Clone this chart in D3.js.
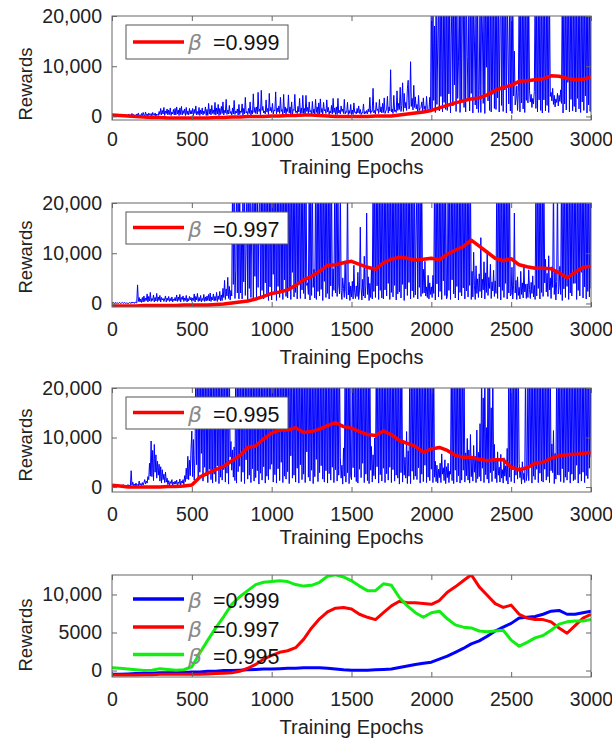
<!DOCTYPE html>
<html>
<head>
<meta charset="utf-8">
<script src="https://cdn.jsdelivr.net/npm/d3@7"></script>
<style>
  body { margin: 0; background: #fff; }
  svg text { font-family: "Liberation Sans", Arial, sans-serif; fill: #222; }
  .tick text { font-size: 19.5px; }
</style>
</head>
<body>
<svg id="chart" width="612" height="738"></svg>
<script>
// rewards are kept in thousands
const xTicks = [0, 500, 1000, 1500, 2000, 2500, 3000];
const yTicksTop = [0, 10, 20];
const yLabelsTop = ["0", "10,000", "20,000"];
const yTicksCmp = [0, 5, 10];
const yLabelsCmp = ["0", "5000", "10,000"];
const betas = ["0.999", "0.997", "0.995"];

// raw rewards, one value every 5 epochs (0..3000), one row per 100 epochs
const noiseEpochs = d3.range(0, 3001, 5);
const noise999 = [
  0.2,0.1,0.3,0.1,0.2,0.4,0.1,0.2,0.3,0.1,0.2,0.1,0.3,0.2,0.1,0.4,0.2,0.1,0.3,0.2,
  0.2,0.5,0.1,0.3,0.2,0.6,0.1,0.4,0.2,0.3,0.1,0.5,0.2,0.7,0.1,0.3,0.2,0.6,0.1,0.8,
  0.3,0.1,0.9,0.2,0.5,0.1,0.7,0.3,0.2,0.6,0.1,0.8,0.3,0.2,0.7,0.1,0.5,0.3,0.2,1.0,
  0.4,1.6,0.3,1.2,0.5,1.8,0.2,1.1,0.6,1.5,0.3,1.3,0.4,1.7,0.2,0.9,0.5,1.4,0.3,1.6,
  0.3,1.9,0.5,1.3,0.2,1.7,0.4,2.0,0.3,1.2,0.6,1.5,0.2,1.8,0.4,1.1,0.3,1.6,0.5,1.2,
  0.5,1.6,0.2,1.4,0.6,2.1,0.3,1.0,0.4,1.8,0.2,1.3,0.5,1.7,0.3,1.1,0.6,1.9,0.2,1.4,
  0.2,2.6,0.5,1.5,0.3,2.2,0.6,1.3,0.4,2.8,0.3,1.7,0.5,2.4,0.2,1.6,0.4,2.0,0.6,2.9,
  0.3,1.2,0.7,3.4,0.4,1.3,0.5,2.2,0.6,1.0,0.3,1.7,0.5,3.2,0.4,1.1,0.7,1.5,0.3,2.4,
  0.4,1.1,0.8,2.5,0.3,1.6,0.5,3.8,0.7,1.0,0.4,1.6,0.6,2.9,0.3,1.2,0.5,4.5,0.8,1.8,
  0.6,1.9,0.5,4.8,1.0,1.5,0.4,5.2,1.2,2.0,0.7,1.1,0.5,3.3,0.9,1.6,0.4,4.6,1.1,1.8,
  0.8,2.6,0.5,1.3,1.1,4.9,0.5,1.7,0.9,2.1,0.6,3.8,1.0,1.4,0.4,4.4,0.7,1.9,0.5,1.6,
  1.0,4.3,0.7,1.9,0.5,2.9,0.4,1.4,1.2,4.4,0.8,1.1,0.6,2.0,0.9,3.6,0.5,1.7,0.7,4.2,
  0.6,1.6,0.5,4.2,1.0,1.8,0.6,2.9,0.9,1.2,0.4,3.0,0.7,1.5,0.5,3.4,0.8,1.9,0.4,2.7,
  0.5,3.5,0.8,1.6,0.5,2.8,1.1,1.4,0.6,3.3,0.9,1.8,0.4,1.1,0.7,2.2,0.5,3.6,0.8,1.7,
  0.4,1.9,0.4,3.6,0.7,1.2,0.5,2.1,1.0,1.5,0.6,3.4,0.5,1.0,0.8,2.8,0.4,1.2,0.6,2.4,
  0.4,1.3,0.4,2.7,0.8,0.9,0.5,1.6,0.7,2.1,0.6,1.4,0.4,0.8,0.7,2.5,0.5,1.0,0.6,1.2,
  0.5,1.5,0.9,3.8,0.6,1.1,1.0,5.6,0.7,1.2,0.5,2.8,1.2,1.5,0.6,3.4,0.9,1.9,0.7,2.6,
  0.8,3.7,0.6,1.1,1.3,4.0,0.7,1.9,1.1,9.3,0.9,1.5,0.6,4.2,1.0,1.3,0.8,5.1,1.2,2.6,
  1.4,5.8,1.0,2.2,6.7,1.0,4.6,1.7,2.8,1.2,5.5,7.2,1.5,2.1,10.9,2.0,3.6,1.3,6.2,1.8,
  3.9,1.5,2.4,0.9,4.2,1.2,1.6,1.8,2.9,1.1,3.7,1.4,2.1,0.9,4.0,1.6,1.3,1.0,3.8,1.5,
  25,1.5,25,3.2,18,0.8,25,2.4,14,25,1.1,25,4.0,25,0.9,22,2.8,25,1.4,25,
  1.2,25,4.5,25,0.7,16,25,2.1,25,6.3,25,1.0,25,3.6,11,25,0.8,25,2.9,25,
  25,1.8,25,0.9,25,12,3.4,25,1.1,25,4.6,25,0.7,25,15,2.3,25,1.5,25,0.8,
  5.2,25,0.8,25,17,2.6,25,0.6,25,9.8,25,3.1,25,1.2,25,0.9,21,4.4,25,1.6,
  25,1.4,25,3.7,25,0.9,19,25,2.2,25,1.0,25,5.3,25,0.7,25,13,2.5,25,1.1,
  25,0.6,25,4.1,13,2.3,3.5,6.1,1.2,4.8,25,0.9,25,2.7,25,1.5,25,0.8,25,3.2,
  25,2.7,25,5.1,2.9,4.4,1.8,3.6,2.5,5.0,25,1.6,25,0.9,25,3.3,25,1.2,25,0.7,
  25,3.3,25,1.1,25,2.2,25,0.8,25,4.0,4.8,3.1,5.6,2.4,4.2,1.9,3.5,2.8,4.6,2.1,
  4.2,3.0,5.3,2.6,25,0.7,25,2.5,25,1.3,25,6.8,25,0.9,25,3.4,25,1.1,25,2.0,
  25,0.9,25,3.6,25,1.5,25,0.8,25,2.9,25,1.2,25,4.1,25,0.7,25,2.3,25,1.0,
  25
];
const noise997 = [
  0.1,0,0.2,0,0.1,0.2,0,0.1,0,0.2,0.1,0,0.1,0.2,0,0.1,0.2,0,0.1,0,
  0.1,0,0.2,0.1,0,0.3,0.1,0.2,0,0.3,0.2,0.1,3.7,0.4,1.2,0.3,0.9,0.2,1.2,0.3,
  1.5,0.4,1.1,0.6,1.9,0.3,1.4,0.5,2.2,0.4,1.0,0.6,1.7,0.3,1.2,0.5,2.0,0.4,1.3,0.6,
  1.6,0.3,1.2,0.7,1.0,0.4,0.9,1.5,0.3,1.1,0.6,1.4,0.4,1.0,0.5,1.3,0.3,0.9,0.6,1.2,
  0.5,1.7,0.4,1.3,0.6,1.8,0.3,1.2,0.8,1.5,0.4,1.1,0.6,1.6,0.3,1.0,0.5,1.4,0.7,1.2,
  0.4,1.1,0.6,1.9,0.3,1.4,0.7,2.0,0.4,1.2,0.5,1.6,0.3,1.0,0.6,1.8,0.4,1.3,0.5,1.5,
  0.6,1.8,0.5,2.1,0.4,1.3,0.7,1.9,0.5,1.4,0.6,2.2,0.4,1.5,0.8,2.4,0.5,1.7,0.6,3.0,
  1.2,4.6,0.8,2.9,1.5,5.2,1.0,3.4,0.7,2.6,1.5,25,3.8,25,1.0,6.5,25,2.1,25,0.9,
  25,2.1,14,0.9,25,4.3,25,1.6,11,25,0.7,25,3.0,25,1.2,16,25,0.8,25,5.4,
  25,0.8,25,3.2,16,25,1.4,25,2.6,25,0.9,25,4.1,25,1.5,25,0.6,25,3.3,25,
  0.7,25,5.8,25,1.9,25,0.6,25,3.4,25,1.2,25,2.5,25,0.8,25,4.7,25,1.4,25,
  1.1,25,2.5,25,0.8,25,6.2,25,1.3,25,2.2,25,0.9,25,3.8,25,1.0,25,2.7,25,
  2.0,25,0.9,25,3.6,4.1,1.8,25,0.7,25,1.6,25,3.2,6.8,1.1,25,0.8,25,2.4,25,
  1.5,25,2.8,25,0.6,25,4.4,25,1.2,25,2.0,25,0.9,25,3.5,25,1.4,6.9,2.6,25,
  2.1,25,1.4,25,3.7,1.9,25,2.5,0.8,5.1,3.0,1.2,8.5,2.4,0.9,25,1.7,4.2,0.6,3.5,
  1.3,4.4,0.9,7.6,2.2,1.0,3.5,1.4,6.2,0.8,2.7,15.2,3.1,0.7,4.8,1.5,9.4,1.1,3.6,18,
  1.8,5.3,0.6,4.0,1.2,7.1,0.9,25,2.4,25,1.2,25,3.5,25,0.8,25,2.6,25,1.1,25,
  0.9,25,2.7,25,1.5,25,4.0,25,0.8,25,2.2,25,1.3,25,3.6,25,0.7,25,1.9,25,
  2.3,25,1.1,25,3.8,25,0.6,25,2.9,25,1.6,25,4.2,25,0.9,25,2.5,25,1.2,25,
  1.7,14,25,0.9,25,3.2,25,1.4,25,2.0,6.8,2.1,8.4,1.5,3.3,1.2,5.6,0.9,4.1,1.8,
  3.3,1.2,5.6,2.0,25,0.7,25,3.9,25,1.3,25,2.4,25,0.8,25,4.5,25,1.6,25,0.9,
  1.4,25,2.6,25,0.8,25,4.7,25,1.9,25,1.1,25,3.4,25,0.7,25,2.2,25,1.5,25,
  3.1,25,0.9,25,2.5,25,1.3,25,3.6,25,0.8,6.4,1.3,10.2,3.6,0.8,7.5,2.0,4.9,1.2,
  5.9,2.4,13.1,1.1,4.8,2.7,8.3,0.9,6.1,2.2,10.5,1.6,5.2,3.0,7.8,1.0,4.3,2.5,6.6,1.4,
  4.5,2.0,25,1.0,25,3.3,25,0.7,25,2.6,25,1.2,25,4.0,25,0.9,25,2.1,25,1.5,
  1.8,7.2,0.9,3.5,18,2.1,4.6,0.8,5.3,1.6,3.2,0.9,6.4,1.8,4.1,1.1,7.6,2.3,3.8,1.0,
  3.9,1.2,6.7,2.8,1.0,4.2,2.0,5.5,1.3,3.6,0.8,25,1.5,25,3.0,25,0.9,25,2.2,25,
  1.4,25,4.1,8.8,2.3,6.0,1.4,9.5,2.7,5.1,1.0,7.3,3.2,25,1.8,6.5,0.7,4.4,25,1.9,
  3.2,7.4,1.8,25,0.6,25,2.9,25,1.2,25,3.4,25,0.8,25,2.1,25,1.5,25,4.0,25,
  4.0,25,0.8,25,2.6,25,1.5,25,6.2,25,1.1,25,3.3,25,0.9,25,2.4,25,1.3,25,
  3.0
];
const noise995 = [
  0.3,0.1,0.4,0.2,0.1,0.3,0.2,0.4,0.1,0.3,0.2,0.4,0.1,0.3,0.5,0.2,0.1,0.4,0.2,0.3,
  0.5,0.2,0.4,0.1,3.3,0.4,1.0,0.3,0.6,0.2,0.8,0.3,0.5,0.2,1.2,0.4,0.7,0.3,0.9,0.4,
  0.9,1.5,0.6,1.2,0.8,2.1,1.5,4.8,2.2,9.3,2.1,7.4,1.3,8.6,3.0,6.5,1.8,5.2,2.4,4.6,
  1.2,4.1,0.8,3.5,1.5,2.6,0.9,3.0,1.0,1.8,0.5,1.3,0.4,1.1,0.7,1.5,0.3,1.0,0.6,1.2,
  0.6,1.4,0.3,1.0,0.7,1.6,0.4,1.2,0.8,1.5,0.5,2.3,1.1,3.8,1.6,6.2,1.5,5.4,2.3,7.7,
  11.3,2.1,9.6,1.4,6.3,25,4.5,25,1.8,25,3.0,25,6.8,25,1.2,25,4.0,25,2.3,25,
  0.9,25,3.6,25,1.5,25,0.8,25,2.6,25,1.1,25,4.3,25,0.7,25,2.0,25,1.4,25,
  3.5,25,1.0,25,2.8,25,0.6,25,6.1,9.2,3.4,7.5,2.0,8.1,1.3,25,0.8,25,3.1,25,
  4.2,25,1.1,25,3.0,25,0.7,25,5.5,25,1.6,25,2.4,25,0.9,25,3.7,25,1.2,25,
  1.9,25,3.3,25,0.6,25,2.8,25,1.4,25,4.1,25,0.8,25,2.2,25,1.5,25,3.6,25,
  4.6,25,1.0,25,2.5,25,0.8,25,3.7,25,1.3,25,5.0,25,0.9,25,2.2,25,1.6,25,
  3.1,25,0.7,25,6.3,25,1.8,25,2.4,25,1.0,25,3.8,25,0.8,25,4.5,25,1.5,25,
  2.6,25,0.9,25,7.1,25,2.0,25,1.2,25,3.4,25,0.7,25,2.1,25,5.6,25,1.1,25,
  2.9,25,4.3,25,1.6,25,1.0,25,3.3,25,0.8,25,2.7,25,1.4,25,4.0,25,0.9,25,
  3.5,25,1.2,25,2.4,25,6.0,1.8,4.4,0.6,7.9,2.2,25,1.0,25,2.9,25,0.7,25,2.2,
  1.5,25,3.9,25,2.0,25,1.1,25,0.8,25,3.6,25,1.9,25,4.8,25,0.9,25,2.6,25,
  1.3,25,0.7,25,3.4,8.2,1.0,6.5,2.3,9.9,1.6,25,4.1,25,0.8,25,2.5,25,1.2,25,
  3.8,25,0.9,25,2.7,25,1.4,25,4.0,25,0.9,25,3.5,25,1.2,25,2.4,25,1.8,25,
  0.6,25,2.9,25,1.0,9.4,2.4,6.0,1.8,11.2,0.7,7.3,2.2,25,0.7,25,3.2,25,1.5,25,
  2.2,25,1.5,25,3.9,25,0.8,25,2.6,25,1.1,25,4.4,25,0.9,25,2.0,25,1.3,25,
  3.6,25,0.9,25,2.0,5.2,1.1,4.4,0.8,3.6,1.9,4.8,0.9,6.7,2.6,3.9,1.3,5.5,0.7,4.1,
  1.9,4.8,0.9,3.2,2.6,25,1.3,25,0.7,25,3.4,25,1.0,25,2.3,25,0.8,25,1.4,25,
  3.4,25,1.0,6.9,2.3,9.8,1.4,7.5,0.8,10.6,2.1,5.8,1.2,8.4,3.0,6.2,0.9,11.5,1.7,7.0,
  2.1,12.8,1.2,25,3.8,18,0.9,25,2.5,12,1.6,25,0.8,25,2.9,16,1.1,25,3.3,8.6,
  1.7,5.3,0.9,7.1,2.4,4.0,1.0,6.6,1.8,3.5,0.8,5.9,2.2,4.3,1.3,7.8,0.6,25,2.0,25,
  1.1,25,3.5,25,0.8,25,2.4,25,1.6,25,4.7,1.9,3.2,0.6,5.1,1.5,2.8,0.9,25,1.3,
  2.7,25,1.3,25,4.1,25,0.8,25,2.2,25,1.5,25,3.6,25,0.9,25,2.8,25,1.2,25,
  1.0,25,3.6,25,1.4,25,2.1,25,0.9,25,3.3,8.7,2.9,11.4,0.7,6.8,1.6,25,2.5,25,
  2.4,25,1.1,25,3.7,25,0.9,25,2.0,25,1.4,25,3.1,25,0.8,25,2.6,25,1.3,25,
  1.5,25,4.4,25,0.8,25,2.6,25,1.2,25,3.0,25,0.9,25,2.3,25,1.7,25,3.8,25,
  6.0
];

// smoothed rewards, one value every 50 epochs (0..3000)
const avgEpochs = d3.range(0, 3001, 50);
const avg999 = [
  0.3,0.2,0.1,0,-0.1,-0.2,-0.2,-0.3,-0.3,-0.3,
  -0.3,-0.3,-0.3,-0.2,-0.2,-0.1,-0.1,0,0,0,
  0.1,0.1,0.2,0.2,0.3,0.3,0.2,0.1,0,0,
  0,0,0,0.1,0.1,0.1,0.3,0.5,0.7,0.9,
  1.2,1.7,2.2,2.7,3.1,3.5,3.7,4.3,5.2,5.8,
  6.2,7.0,7.1,7.3,7.5,8.1,8.0,7.6,7.3,7.4,
  7.8
];
const avg997 = [
  -0.5,-0.5,-0.5,-0.5,-0.4,-0.4,-0.4,-0.4,-0.4,-0.3,
  -0.3,-0.3,-0.3,-0.2,-0.1,0.1,0.3,0.5,0.9,1.4,
  2.0,2.3,2.7,3.6,4.7,5.4,6.4,7.6,7.7,8.1,
  8.4,7.8,7.2,6.8,8.1,8.8,9.2,9.0,8.6,8.8,
  9.0,8.7,9.8,10.6,11.3,12.6,11.4,10.2,9.0,8.5,
  8.9,7.7,7.3,7.0,7.0,6.9,6.1,5.1,6.2,7.2,
  7.4
];
const avg995 = [
  0.35,0.2,0,0,0,0,0,0.1,0.1,0.2,
  0.4,2.0,2.8,3.5,4.2,5.3,6.3,8.0,8.3,9.7,
  10.9,11.5,11.5,12.0,11.0,11.2,11.7,12.4,13.0,12.2,
  11.9,11.2,10.6,10.4,11.3,10.6,9.4,8.8,8.2,7.0,
  7.7,8.0,7.4,6.4,6.0,6.0,5.6,5.3,5.5,5.5,
  4.0,3.5,3.9,4.8,5.0,5.8,6.3,6.5,6.6,6.8,
  7.0
];

// bottom comparison panel
const cmp999 = [
  -0.5,-0.5,-0.45,-0.4,-0.4,-0.35,-0.3,-0.3,-0.25,-0.25,
  -0.2,-0.2,-0.1,-0.1,0,0,0.05,0.1,0.15,0.2,
  0.2,0.25,0.3,0.3,0.35,0.35,0.35,0.3,0.2,0.1,
  0.05,0.05,0.05,0.1,0.15,0.2,0.4,0.6,0.8,0.95,
  1.1,1.5,1.9,2.4,2.9,3.5,3.9,4.5,5.2,5.7,
  6.2,6.9,7.0,7.1,7.4,7.8,7.9,7.4,7.4,7.6,
  7.8
];
const cmp997 = [
  -0.6,-0.6,-0.6,-0.6,-0.55,-0.55,-0.5,-0.5,-0.5,-0.5,
  -0.5,-0.5,-0.45,-0.4,-0.35,-0.3,-0.1,0.3,0.8,1.5,
  2.0,2.4,2.6,3.0,4.1,5.6,6.8,7.7,8.2,8.3,
  8.1,7.4,7.0,6.7,7.6,8.5,9.1,8.9,8.9,8.8,
  8.7,9.2,10.3,11.0,11.8,12.6,11.0,9.9,8.8,8.3,
  8.6,7.4,6.9,6.7,6.7,6.4,5.6,4.9,5.9,6.9,
  7.4
];
const cmp995 = [
  0.35,0.3,0.2,0.1,0,0.05,0.25,0.15,0.05,0.1,
  0.5,2.3,4.0,5.6,7.1,8.7,9.7,10.5,11.3,11.6,
  11.7,11.8,11.7,11.3,11.1,11.2,11.6,12.4,12.6,12.3,
  11.8,11.1,10.5,10.5,11.4,11.2,9.6,8.5,7.6,7.0,
  7.6,7.8,6.8,6.0,5.7,5.6,5.2,5.1,5.2,5.3,
  4.0,3.2,3.7,4.3,4.6,5.3,6.1,6.4,6.5,6.5,
  6.7
];

const width = 612;
const height = 738;
const left = 112;
const right = 591;
const frameColor = "#666";

const svg = d3.select("#chart");
svg.append("rect")
    .attr("width", width)
    .attr("height", height)
    .attr("fill", "#fff");

const x = d3.scaleLinear().domain([0, 3000]).range([left, right]);

const panels = [
  {top: 16, bottom: 120, yDomain: [-0.7, 20], noise: noise999, avg: avg999, beta: betas[0],
   xPad: 12, titleY: 173.5, rewardsY: 84, box: [25, 59], lineY: 42, textY: 50},
  {top: 203, bottom: 307, yDomain: [-0.7, 20], noise: noise997, avg: avg997, beta: betas[1],
   xPad: 15, titleY: 363.5, rewardsY: 257, box: [212, 244], lineY: 227.5, textY: 236.5},
  {top: 388, bottom: 492, yDomain: [-1, 20], noise: noise995, avg: avg995, beta: betas[2],
   xPad: 15, titleY: 543.5, rewardsY: 445, box: [397, 429], lineY: 412.5, textY: 421.5}
];

function drawFrame(p, y, yTicks, yLabels) {
  const g = svg.append("g");

  g.append("g")
      .attr("color", frameColor)
      .attr("transform", `translate(0,${p.bottom})`)
      .call(d3.axisBottom(x).tickValues(xTicks).tickSize(-5).tickPadding(p.xPad)
        .tickFormat(d3.format("d")))
      .call(a => a.select(".domain").remove());

  g.append("g")
      .attr("color", frameColor)
      .attr("transform", `translate(0,${p.top})`)
      .call(d3.axisTop(x).tickValues(xTicks).tickSize(-5).tickFormat(""))
      .call(a => a.select(".domain").remove());

  g.append("g")
      .attr("color", frameColor)
      .attr("transform", `translate(${left},0)`)
      .call(d3.axisLeft(y).tickValues(yTicks).tickSize(-5).tickPadding(10)
        .tickFormat((d, i) => yLabels[i]))
      .call(a => a.select(".domain").remove());

  g.append("g")
      .attr("color", frameColor)
      .attr("transform", `translate(${right},0)`)
      .call(d3.axisRight(y).tickValues(yTicks).tickSize(-5).tickFormat(""))
      .call(a => a.select(".domain").remove());

  g.append("rect")
      .attr("x", left)
      .attr("y", p.top)
      .attr("width", right - left)
      .attr("height", p.bottom - p.top)
      .attr("fill", "none")
      .attr("stroke", frameColor)
      .attr("stroke-width", 1);

  g.append("text")
      .attr("x", (left + right) / 2)
      .attr("y", p.titleY)
      .attr("text-anchor", "middle")
      .attr("font-size", "20px")
      .text("Training Epochs");

  g.append("text")
      .attr("transform", `translate(32,${p.rewardsY}) rotate(-90)`)
      .attr("text-anchor", "middle")
      .attr("font-size", "18.5px")
      .text("Rewards");
}

function legendEntry(g, color, lineY, textY, beta) {
  g.append("line")
      .attr("x1", 133)
      .attr("x2", 184)
      .attr("y1", lineY)
      .attr("y2", lineY)
      .attr("stroke", color)
      .attr("stroke-width", 3.5);
  g.append("text")
      .attr("x", 188)
      .attr("y", textY)
      .attr("font-size", "22px")
      .attr("font-style", "italic")
      .style("font-family", "'DejaVu Sans', sans-serif")
      .style("fill", "#8a8a8a")
      .text("\u03b2");
  g.append("text")
      .attr("x", 213)
      .attr("y", textY)
      .attr("font-size", "21.5px")
      .style("fill", "#111")
      .text("=" + beta);
}

panels.forEach((p, k) => {
  const y = d3.scaleLinear().domain(p.yDomain).range([p.bottom, p.top]);

  svg.append("clipPath")
      .attr("id", "clip" + k)
    .append("rect")
      .attr("x", left)
      .attr("y", p.top)
      .attr("width", right - left)
      .attr("height", p.bottom - p.top);

  const plot = svg.append("g").attr("clip-path", `url(#clip${k})`);

  plot.append("path")
      .datum(p.noise)
      .attr("fill", "none")
      .attr("stroke", "#0000ff")
      .attr("stroke-width", 1)
      .attr("d", d3.line()
        .defined((d, i) => i < noiseEpochs.length)
        .x((d, i) => x(noiseEpochs[i]))
        .y(d => y(d)));

  plot.append("path")
      .datum(p.avg)
      .attr("fill", "none")
      .attr("stroke", "#ff0000")
      .attr("stroke-width", 3.5)
      .attr("stroke-linejoin", "round")
      .attr("d", d3.line().x((d, i) => x(avgEpochs[i])).y(d => y(d)));

  drawFrame(p, y, yTicksTop, yLabelsTop);

  const lg = svg.append("g");
  lg.append("rect")
      .attr("x", 126)
      .attr("y", p.box[0])
      .attr("width", 162)
      .attr("height", p.box[1] - p.box[0])
      .attr("fill", "#fff")
      .attr("stroke", "#555")
      .attr("stroke-width", 1);
  legendEntry(lg, "#ff0000", p.lineY, p.textY, p.beta);
});

// comparison panel
const cmp = {top: 575, bottom: 677, xPad: 15, titleY: 733.5, rewardsY: 635};
const yCmp = d3.scaleLinear().domain([-0.85, 12.56]).range([cmp.bottom, cmp.top]);

svg.append("clipPath")
    .attr("id", "clip3")
  .append("rect")
    .attr("x", left)
    .attr("y", cmp.top)
    .attr("width", right - left)
    .attr("height", cmp.bottom - cmp.top);

const cmpSeries = [
  {values: cmp999, color: "#0000ff", lineY: 599, textY: 608},
  {values: cmp997, color: "#ff0000", lineY: 627, textY: 636.5},
  {values: cmp995, color: "#11ee11", lineY: 654.5, textY: 664}
];

const cmpPlot = svg.append("g").attr("clip-path", "url(#clip3)");
cmpSeries.forEach(s => {
  cmpPlot.append("path")
      .datum(s.values)
      .attr("fill", "none")
      .attr("stroke", s.color)
      .attr("stroke-width", 3)
      .attr("stroke-linejoin", "round")
      .attr("d", d3.line().x((d, i) => x(avgEpochs[i])).y(d => yCmp(d)));
});

drawFrame(cmp, yCmp, yTicksCmp, yLabelsCmp);

const cmpLegend = svg.append("g");
cmpSeries.forEach((s, i) => legendEntry(cmpLegend, s.color, s.lineY, s.textY, betas[i]));
</script>
</body>
</html>
